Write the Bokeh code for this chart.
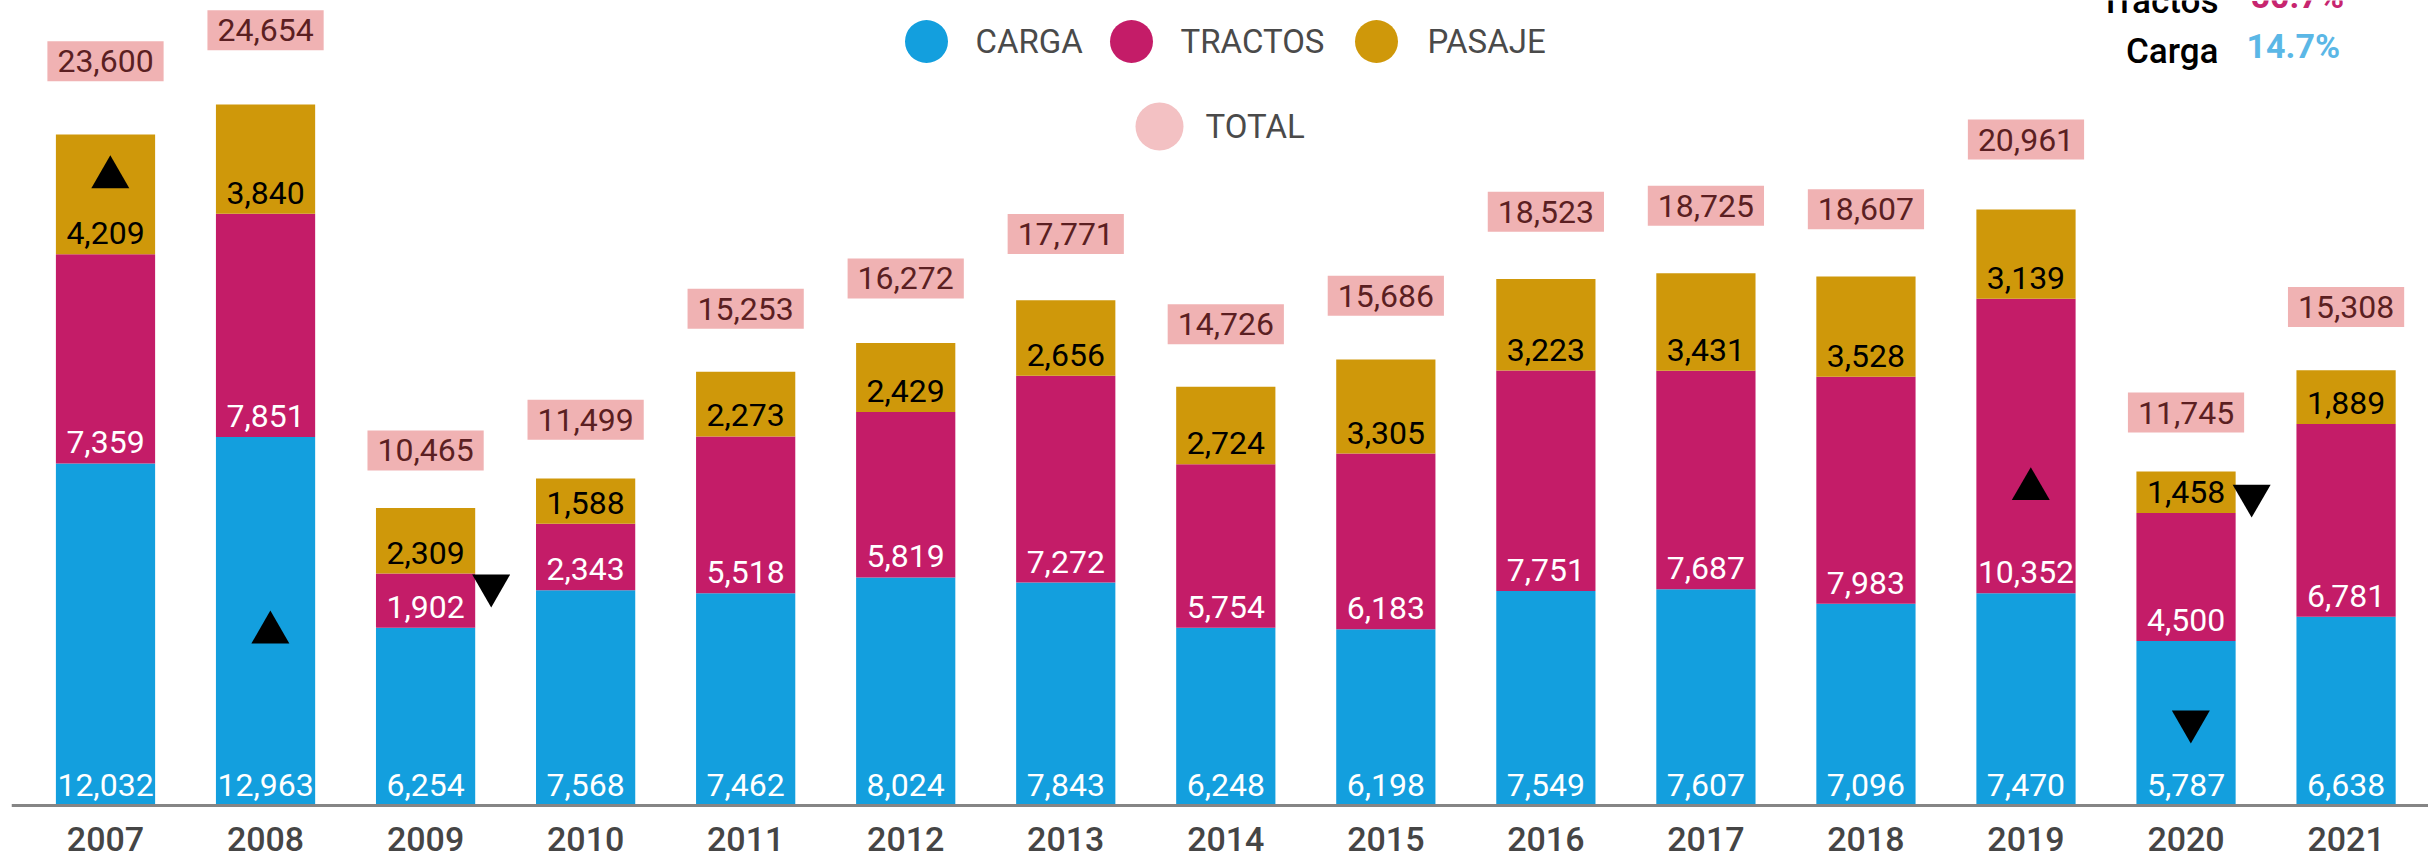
from bokeh.plotting import figure
from bokeh.models import ColumnDataSource, Range1d, Span
from bokeh.core.properties import value
from bokeh.embed import file_html
from bokeh.resources import INLINE

# ---------------- data ----------------
years = ["2007", "2008", "2009", "2010", "2011", "2012", "2013", "2014",
         "2015", "2016", "2017", "2018", "2019", "2020", "2021"]
carga = [12032, 12963, 6254, 7568, 7462, 8024, 7843, 6248, 6198, 7549,
         7607, 7096, 7470, 5787, 6638]
tractos = [7359, 7851, 1902, 2343, 5518, 5819, 7272, 5754, 6183, 7751,
           7687, 7983, 10352, 4500, 6781]
pasaje = [4209, 3840, 2309, 1588, 2273, 2429, 2656, 2724, 3305, 3223,
          3431, 3528, 3139, 1458, 1889]
total = [23600, 24654, 10465, 11499, 15253, 16272, 17771, 14726, 15686,
         18523, 18725, 18607, 20961, 11745, 15308]

# change markers (year, direction, value level, beside bar?)
marker_years = ["2007", "2008", "2009", "2019", "2020", "2020"]
marker_dirs = ["up", "up", "down", "up", "down", "down"]
marker_vals = [22100, 6085, 7740, 11130, 10900, 2955]
marker_beside = [False, False, True, False, True, False]

series_names = ["CARGA", "TRACTOS", "PASAJE"]
note_labels = ["Tractos", "Carga"]
note_values = ["50.7%", "14.7%"]

# ---------------- styles ----------------
C_CARGA = "#139fde"
C_TRACT = "#c41c68"
C_PAS = "#cf980a"
C_TOTAL_BOX = "#f0b2b3"
C_TOTAL_TXT = "#5b1f22"
C_TOTAL_LEG = "#f3c1c3"
FONT = value("Roboto")

W, H = 2428, 851
PX_PER_BAR = 160.04
PX_PER_UNIT = 0.02843
LEFT_BORDER = 11
X0 = -0.5874
AXIS_Y = 805  # figure px of the baseline
Y_END = AXIS_Y / PX_PER_UNIT
Y_START = -(H - AXIS_Y) / PX_PER_UNIT
X_END = X0 + (W - LEFT_BORDER) / PX_PER_BAR

p = figure(width=W, height=H, output_backend="svg", toolbar_location=None,
           x_range=Range1d(X0, X_END), y_range=Range1d(Y_START, Y_END),
           min_border_left=LEFT_BORDER, min_border_right=0,
           min_border_top=0, min_border_bottom=0)
p.outline_line_color = None
p.xaxis.visible = False
p.yaxis.visible = False
p.grid.visible = False
p.background_fill_color = "white"
p.border_fill_color = "white"

idx = list(range(len(years)))
base_t = carga
base_p = [c + t for c, t in zip(carga, tractos)]
src = ColumnDataSource(dict(
    x=idx, year=years, carga=carga, tractos=tractos, pasaje=pasaje, total=total,
    top_c=carga, top_t=base_p, top_p=total,
    bt=base_t, bp=base_p, zero=[0] * len(idx),
    lc=[f"{v:,}" for v in carga], lt=[f"{v:,}" for v in tractos],
    lp=[f"{v:,}" for v in pasaje], ltot=[f"{v:,}" for v in total],
    ytot=[v * 1.042 for v in total],
))

BW = 0.62
p.vbar(x="x", bottom="zero", top="top_c", width=BW, source=src,
       fill_color=C_CARGA, line_color=None)
p.vbar(x="x", bottom="bt", top="top_t", width=BW, source=src,
       fill_color=C_TRACT, line_color=None)
p.vbar(x="x", bottom="bp", top="top_p", width=BW, source=src,
       fill_color=C_PAS, line_color=None)

# axis line
p.add_layout(Span(location=0, dimension="width", line_color="#858585",
                  line_width=3))

# segment labels
lab_kw = dict(source=src, text_font=FONT, text_font_size="32px",
              text_align="center", text_baseline="middle", y_offset=-21)
p.text(x="x", y="zero", text="lc", text_color="white", **lab_kw)
p.text(x="x", y="bt", text="lt", text_color="white", **lab_kw)
p.text(x="x", y="bp", text="lp", text_color="black", **lab_kw)

# total labels
p.text(x="x", y="ytot", text="ltot", source=src, text_font=FONT,
       text_font_size="32px", text_align="center", text_baseline="middle",
       y_offset=-45, text_color=C_TOTAL_TXT,
       background_fill_color=C_TOTAL_BOX, padding=(10, 9))

# year labels
p.text(x="x", y="zero", text="year", source=src,
       text_font=value("'Roboto Medium', Roboto"),
       text_font_size="34px", text_align="center",
       text_baseline="middle", y_offset=33, text_color="#454545")

# change markers
mx = [years.index(y) + (0.41 if b else 0.03) for y, b in zip(marker_years, marker_beside)]
msrc = ColumnDataSource(dict(
    x=mx, y=marker_vals,
    m=["triangle" if d == "up" else "inverted_triangle" for d in marker_dirs]))
p.scatter(x="x", y="y", marker="m", source=msrc, size=38,
          fill_color="black", line_color=None)


# helpers to place decorations at pixel positions of the page
def fx(px):
    return X0 + (px - LEFT_BORDER) / PX_PER_BAR


def fy(py):
    return Y_END - py / PX_PER_UNIT


# legend
leg_cols = [C_CARGA, C_TRACT, C_PAS, C_TOTAL_LEG]
leg_names = series_names + ["TOTAL"]
leg_cx = [926, 1131, 1376, 1159]
leg_cy = [41, 41, 41, 126]
leg_sz = [43, 43, 43, 48]
leg_tx = [975, 1180, 1427, 1205]
p.scatter(x=[fx(v) for v in leg_cx], y=[fy(v) for v in leg_cy], size=leg_sz,
          fill_color=leg_cols, line_color=None)
p.text(x=[fx(v) for v in leg_tx], y=[fy(v) for v in leg_cy], text=leg_names,
       text_font=FONT, text_font_size="33px", text_baseline="middle",
       text_align="left", text_color="#4a4a4a")

# top-right notes
p.text(x=[fx(2218)] * 2, y=[fy(1), fy(51)], text=note_labels,
       text_font=value("'Roboto Medium', Roboto"), text_font_size="35px",
       text_align="right", text_baseline="middle", text_color="black")
p.text(x=[fx(2250), fx(2246)], y=[fy(-5), fy(45)], text=note_values,
       text_font=FONT, text_font_size="34px", text_font_style="bold",
       text_align="left", text_baseline="middle",
       text_color=["#c7256f", "#5bb7e6"])

open("out.html", "w").write(file_html(p, INLINE))
